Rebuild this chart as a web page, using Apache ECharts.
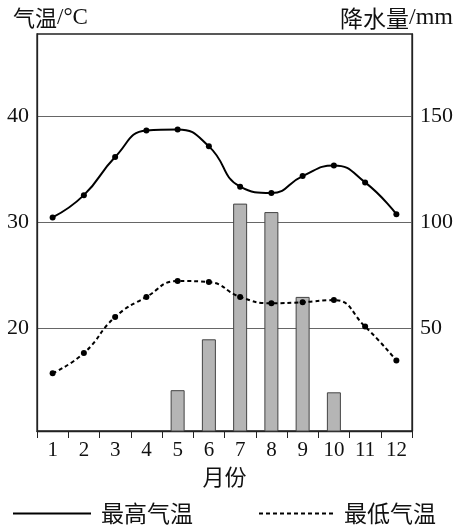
<!DOCTYPE html>
<html>
<head>
<meta charset="utf-8">
<script src="https://cdn.jsdelivr.net/npm/echarts@6/dist/echarts.min.js"></script>
<style>html,body{margin:0;padding:0;background:#fff;}#c{width:460px;height:527px;}</style>
</head>
<body>
<div id="c"></div>
<script>
var months = ['1','2','3','4','5','6','7','8','9','10','11','12'];
var maxTemp = [30.5, 32.6, 36.2, 38.7, 38.8, 37.2, 33.4, 32.8, 34.4, 35.4, 33.8, 30.8];
var minTemp = [15.8, 17.7, 21.1, 23.0, 24.5, 24.4, 23.0, 22.4, 22.5, 22.7, 20.2, 17.0];
var precip = [0, 0, 0, 0, 21, 45, 109, 105, 65, 20, 0, 0];
var tempTicks = [20, 30, 40];
var precipTicks = [50, 100, 150];

var serif = '"Liberation Serif", "DejaVu Serif", serif';
var cjk = '"Noto Sans CJK SC", sans-serif';
var chart = echarts.init(document.getElementById('c'));
chart.setOption({
  animation: false,
  grid: {left: 37, right: 48, top: 34, bottom: 96, show: true, borderColor: '#222', borderWidth: 1.3},
  xAxis: {
    type: 'category', data: months, boundaryGap: true,
    axisLine: {lineStyle: {color: '#222', width: 1.3}},
    axisTick: {show: true, interval: 0, length: 7, lineStyle: {color: '#222'}},
    axisLabel: {interval: 0, margin: 9, color: '#111', fontFamily: serif, fontSize: 21},
    name: '月份', nameLocation: 'middle', nameGap: 35,
    nameTextStyle: {color: '#111', fontFamily: cjk, fontSize: 22}
  },
  yAxis: [{
    type: 'value', min: 10.35, max: 47.8,
    axisLine: {show: true, lineStyle: {color: '#222', width: 1.3}},
    axisTick: {show: false, customValues: tempTicks},
    axisLabel: {customValues: tempTicks, margin: 8, color: '#111', fontFamily: serif, fontSize: 22},
    splitLine: {show: true, lineStyle: {color: '#666', width: 1}}
  }, {
    type: 'value', min: 1.75, max: 189,
    position: 'right',
    axisLine: {show: true, lineStyle: {color: '#222', width: 1.3}},
    axisTick: {show: false, customValues: precipTicks},
    axisLabel: {customValues: precipTicks, margin: 8, color: '#111', fontFamily: serif, fontSize: 22},
    splitLine: {show: false}
  }],
  legend: [{
    data: ['最高气温'], left: 7, top: 497, itemWidth: 78, itemHeight: 12,
    itemStyle: {opacity: 0},
    textStyle: {fontFamily: cjk, fontSize: 23, color: '#111', padding: [0, 0, 0, 5]}
  }, {
    data: ['最低气温'], left: 253, top: 497, itemWidth: 75, itemHeight: 12,
    itemStyle: {opacity: 0},
    textStyle: {fontFamily: cjk, fontSize: 23, color: '#111', padding: [0, 0, 0, 5]}
  }],
  graphic: [{
    type: 'text', left: 13, top: 6,
    style: {text: '{a|气温}{b|/°C}', rich: {
      a: {fontFamily: cjk, fontSize: 22, fill: '#111'},
      b: {fontFamily: serif, fontSize: 23, fill: '#111'}
    }}
  }, {
    type: 'text', right: 7, top: 6,
    style: {text: '{a|降水量}{b|/mm}', rich: {
      a: {fontFamily: cjk, fontSize: 23, fill: '#111'},
      b: {fontFamily: serif, fontSize: 24, fill: '#111'}
    }}
  }],
  series: [{
    name: '降水量', type: 'bar', yAxisIndex: 1, data: precip, barWidth: 14,
    itemStyle: {color: '#b5b5b5', borderColor: '#444', borderWidth: 1}
  }, {
    name: '最高气温', type: 'line', data: maxTemp, smooth: 0.5,
    symbol: 'circle', symbolSize: 6,
    lineStyle: {color: '#000', width: 2},
    itemStyle: {color: '#000'}
  }, {
    name: '最低气温', type: 'line', data: minTemp, smooth: 0.5,
    symbol: 'circle', symbolSize: 6,
    lineStyle: {color: '#000', width: 2, type: [4, 3]},
    itemStyle: {color: '#000'}
  }]
});
</script>
</body>
</html>
